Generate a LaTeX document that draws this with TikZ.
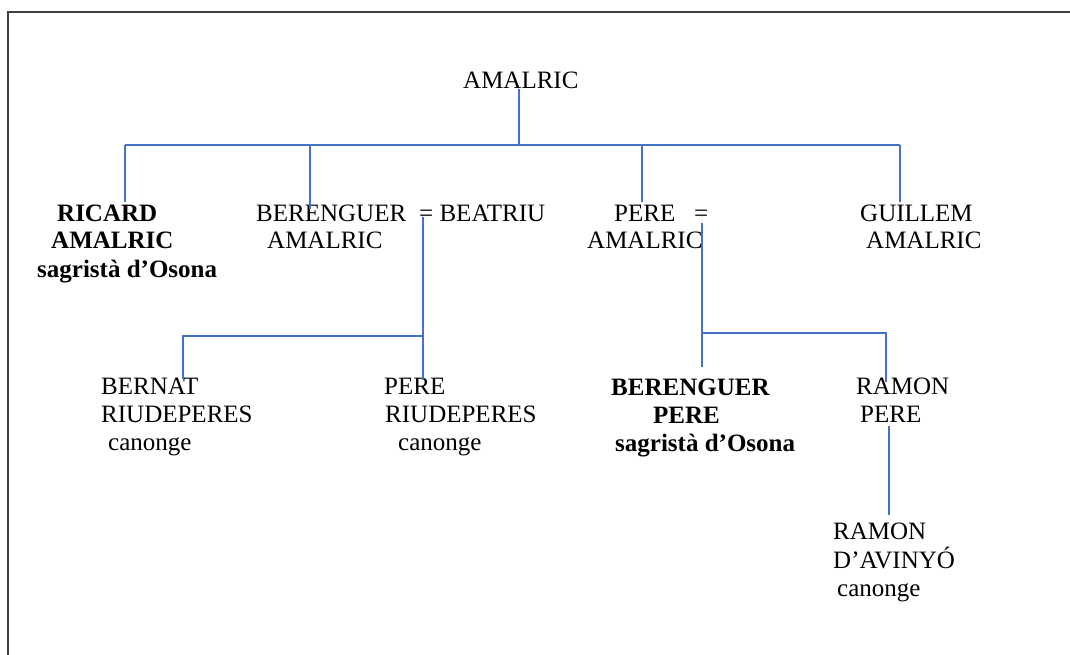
\documentclass[tikz,border=0pt]{standalone}
\usepackage{fontspec}
\setmainfont{Liberation Serif}
\definecolor{linkblue}{RGB}{68,114,196}
% stacked lines of one entry, first baseline on the node's base
\newcommand{\famlines}[1]{\begin{tabular}[t]{@{}l@{}}#1\end{tabular}}
\begin{document}
\begin{tikzpicture}[x=1pt,y=-1pt,
  person/.style={anchor=base west, inner sep=0pt, font=\fontsize{25}{28}\selectfont},
  noble/.style={person, font=\fontsize{25}{28}\selectfont\bfseries},
  link/.style={draw=linkblue, line width=1.3pt},
  frameline/.style={draw=black!75, line width=2pt}]
\useasboundingbox (0,0) rectangle (1070,655);
\begin{scope}
  \clip (0,0) rectangle (1070,655);
  \draw[frameline] (8,700) -- (8,12) -- (1100,12);
\end{scope}

% people
\node[person] (top) at (463,89) {AMALRIC};
\node[noble] (ricard) at (37,221) {\famlines{\hspace*{20pt}RICARD\\\hspace*{14pt}AMALRIC\\sagristà d’Osona}};
\node[person] (berenguer) at (256,221) {\famlines{BERENGUER\\\hspace*{11pt}AMALRIC}};
\node[person] (beatriu) at (419,221) {= BEATRIU};
\node[person] (pere) at (587,221) {\famlines{\hspace*{27pt}PERE\\AMALRIC}};
\node[person] (pereEq) at (694,221) {=};
\node[person] (guillem) at (860,221) {\famlines{GUILLEM\\\hspace*{6pt}AMALRIC}};
\node[person] (bernat) at (101,394) {\famlines{BERNAT\\RIUDEPERES\\\hspace*{7pt}canonge}};
\node[person] (pereR) at (384,394) {\famlines{PERE\\\hspace*{1pt}RIUDEPERES\\\hspace*{14pt}canonge}};
\node[noble] (berengP) at (611,395) {\famlines{BERENGUER\\\hspace*{42pt}PERE\\\hspace*{4pt}sagristà d’Osona}};
\node[person] (ramonP) at (856,394) {\famlines{RAMON\\\hspace*{4pt}PERE}};
\node[person] (ramonA) at (833,539) {\famlines{RAMON\\D’AVINYÓ\\\hspace*{4pt}canonge}};

% junctions and line ends
\coordinate (bar) at (519,145);
\coordinate (barL) at (125,145);
\coordinate (barR) at (900,145);
\coordinate (ricardTop) at (125,202);
\coordinate (berTop) at (310,209);
\coordinate (pereTop) at (642,202);
\coordinate (guiTop) at (900,202);
\coordinate (bEq) at (423,217);
\coordinate (bJ) at (423,336);
\coordinate (bernatTop) at (183,379);
\coordinate (pereRTop) at (423,380);
\coordinate (pEq) at (702,223);
\coordinate (pJ) at (702,333);
\coordinate (berengPTop) at (702,367);
\coordinate (ramonPTop) at (886,382);
\coordinate (rpBot) at (889,426);
\coordinate (raTop) at (889,515);

% lines of descent
\draw[link] (bar |- top.south) -- (bar);
\draw[link] (barL) -- (barR);
\draw[link] (barL) -- (ricardTop);
\draw[link] (bar -| berTop) -- (berTop);
\draw[link] (bar -| pereTop) -- (pereTop);
\draw[link] (barR) -- (guiTop);
\draw[link] (bEq) -- (pereRTop);
\draw[link] (bJ) -- (bJ -| bernatTop) -- (bernatTop);
\draw[link] (pEq) -- (berengPTop);
\draw[link] (pJ) -- (pJ -| ramonPTop) -- (ramonPTop);
\draw[link] (rpBot) -- (raTop);
\end{tikzpicture}
\end{document}
